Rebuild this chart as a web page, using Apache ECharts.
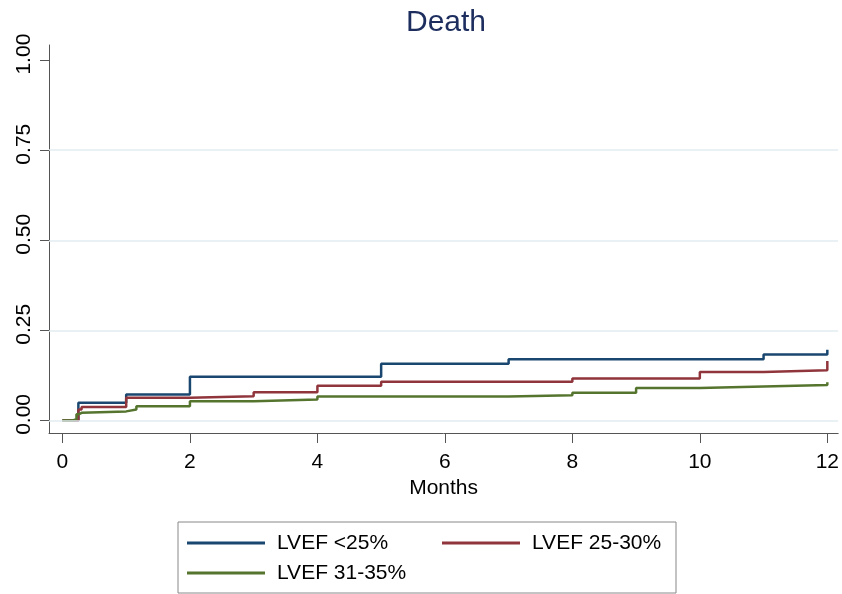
<!DOCTYPE html>
<html><head><meta charset="utf-8">
<script src="https://cdn.jsdelivr.net/npm/echarts@6/dist/echarts.min.js"></script>
<style>html,body{margin:0;padding:0;background:#fff}#c{width:842px;height:594px}</style>
</head><body><div id="c"></div>
<script>
const titleText = 'Death';
const xAxisName = 'Months';
const seriesNames = ['LVEF <25%', 'LVEF 25-30%', 'LVEF 31-35%'];
const seriesColors = ['#1a476f', '#90353b', '#55752f'];
const blueTimes = [0, 0.25, 1, 2, 5, 7, 11, 12];
const blueValues = [0, 0.049, 0.072, 0.121, 0.157, 0.170, 0.183, 0.196];
const redTimes = [0, 0.25, 0.3, 1, 2, 3, 4, 5, 8, 10, 11, 12];
const redValues = [0, 0.030, 0.037, 0.063, 0.067, 0.078, 0.096, 0.107, 0.116, 0.134, 0.139, 0.165];
const greenTimes = [0, 0.16, 0.22, 0.26, 0.3, 1, 1.16, 2, 3, 4, 7, 8, 9, 10, 11, 12];
const greenValues = [0, 0.003, 0.017, 0.021, 0.025, 0.030, 0.039, 0.053, 0.058, 0.066, 0.070, 0.077, 0.090, 0.094, 0.098, 0.106];
const xTicks = [0, 2, 4, 6, 8, 10, 12];
const yTicks = [0, 0.25, 0.5, 0.75, 1];
const yTickLabels = ['0.00', '0.25', '0.50', '0.75', '1.00'];
const gridValues = [0, 0.25, 0.5, 0.75];

const FONT = "'Liberation Sans', Arial, sans-serif";
function pairs(t, v) { return t.map((x, i) => [x, v[i]]); }
const seriesData = [pairs(blueTimes, blueValues), pairs(redTimes, redValues), pairs(greenTimes, greenValues)];

const chart = echarts.init(document.getElementById('c'), null, {renderer: 'canvas'});
const series = [{
  type: 'line', name: '_grid', data: [], silent: true, z: 1,
  markLine: {
    silent: true, symbol: ['none', 'none'], label: {show: false},
    lineStyle: {color: '#e2edf0', width: 1.5, type: 'solid'},
    emphasis: {disabled: true},
    data: gridValues.map(v => ({yAxis: v}))
  }
}];
seriesNames.forEach((n, i) => {
  series.push({
    type: 'line', name: n, step: 'end', data: seriesData[i], showSymbol: false, symbol: 'none',
    z: 3, color: seriesColors[i],
    lineStyle: {color: seriesColors[i], width: 2.5}
  });
});
const textWidths = [165, 130, 165];
chart.setOption({
  animation: false,
  backgroundColor: '#fff',
  title: {
    text: titleText, left: 446, textAlign: 'center', top: 0, padding: [8, 0, 0, 0],
    textStyle: {fontFamily: FONT, fontSize: 30, fontWeight: 'normal', color: '#1c2d5e'}
  },
  legend: {
    left: 178, top: 522, width: 498, orient: 'horizontal',
    padding: [6, 14, 5, 9], itemGap: 0, itemWidth: 78, itemHeight: 3,
    icon: 'rect', borderColor: '#888', borderWidth: 1,
    selectedMode: false,
    textStyle: {fontFamily: FONT, fontSize: 21, color: '#000', lineHeight: 30, padding: [0, 0, 0, 7]},
    data: seriesNames.map((n, i) => ({name: n, textStyle: {width: textWidths[i]}}))
  },
  grid: {left: 49, right: 2, top: 45, bottom: 161, containLabel: false},
  xAxis: {
    type: 'value', min: -0.211, max: 12.17,
    name: xAxisName, nameLocation: 'middle', nameGap: 43,
    nameTextStyle: {fontFamily: FONT, fontSize: 21, color: '#000'},
    axisLine: {show: true, onZero: false, lineStyle: {color: '#555', width: 1}},
    axisTick: {show: true, length: 10, customValues: xTicks, lineStyle: {color: '#555'}},
    axisLabel: {customValues: xTicks, fontFamily: FONT, fontSize: 21, color: '#000', margin: 19},
    splitLine: {show: false}
  },
  yAxis: {
    type: 'value', min: -0.035, max: 1.042,
    axisLine: {show: true, onZero: false, lineStyle: {color: '#555', width: 1}},
    axisTick: {show: true, length: 9, customValues: yTicks, lineStyle: {color: '#555'}},
    axisLabel: {
      customValues: yTicks, rotate: 90, fontFamily: FONT, fontSize: 21, color: '#000', margin: 14,
      padding: [0, 0, 0, 12],
      formatter: v => { const i = yTicks.findIndex(t => Math.abs(t - v) < 1e-9); return i >= 0 ? yTickLabels[i] : ''; }
    },
    splitLine: {show: false}
  },
  series: series
});
</script>
</body></html>
